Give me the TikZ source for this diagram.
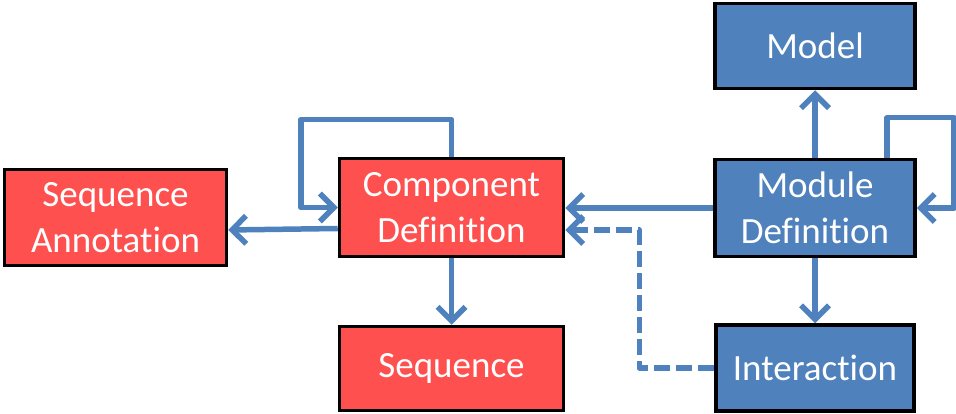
\documentclass[tikz,border=0pt]{standalone}
\usepackage{fontspec}
\setmainfont{Carlito}[Ligatures=NoCommon]
\usetikzlibrary{arrows.meta}
\definecolor{boxblue}{RGB}{79,129,189}
\definecolor{boxred}{RGB}{255,80,80}
\begin{document}
\begin{tikzpicture}[x=1pt,y=-1pt,
		 redbox/.style={draw=black, line width=3.5pt, fill=boxred, text=white, align=center,
		   inner sep=0pt, font=\fontsize{37}{46}\selectfont},
		 bluebox/.style={redbox, fill=boxblue},
		 link/.style={draw=boxblue, line width=5.5pt, line join=round,
		   -{Straight Barb[length=14pt,width=28pt,line width=5.5pt]}}]
    % \draw[help lines] (0,0) grid (956,414);
		\useasboundingbox (0,0) rectangle (956,414);
		\node[redbox, minimum width=222pt, minimum height=96pt] (seqann)   at (115.5,217.5)
		    {Sequence\\Annotation};
		\node[redbox, minimum width=224pt, minimum height=98pt] (compdef)  at (451.5,207.5)
		    {Component\\Definition};
		\node[redbox, minimum width=224pt, minimum height=84pt] (sequence) at (451.5,368.5)
		    {Sequence};
		\node[bluebox, minimum width=200pt, minimum height=85pt] (model)   at (815,46)
		    {Model};
		\node[bluebox, minimum width=200pt, minimum height=97pt] (moduledef) at (815,208)
		    {Module\\Definition};
		\node[bluebox, minimum width=198pt, minimum height=86pt] (interaction) at (815,368)
		    {Interaction};
		\draw[link]  (moduledef) -- (model);
		\draw[link]  (moduledef) -- (interaction);
		\draw[link]  (compdef) -- (sequence);
		\draw[link]  (moduledef.west) -- (moduledef.west -| compdef.east);
		\draw[link]  ([yshift=-21pt]compdef.west) -- ([yshift=-12.5pt]seqann.east);
		\draw[link, dash pattern=on 16pt off 6pt]  (interaction.west) -- ++(-75,0)
		    |- ([yshift=-22.5pt]compdef.east);
		\draw[link]  (compdef.north) -- ++(0,-37) -| ([xshift=-37pt]compdef.west) -- (compdef.west);
		\draw[link]  ([xshift=72pt]moduledef.north) -- ++(0,-40)
		    -| ([xshift=37pt]moduledef.east) -- (moduledef.east);
\end{tikzpicture}
\end{document}
